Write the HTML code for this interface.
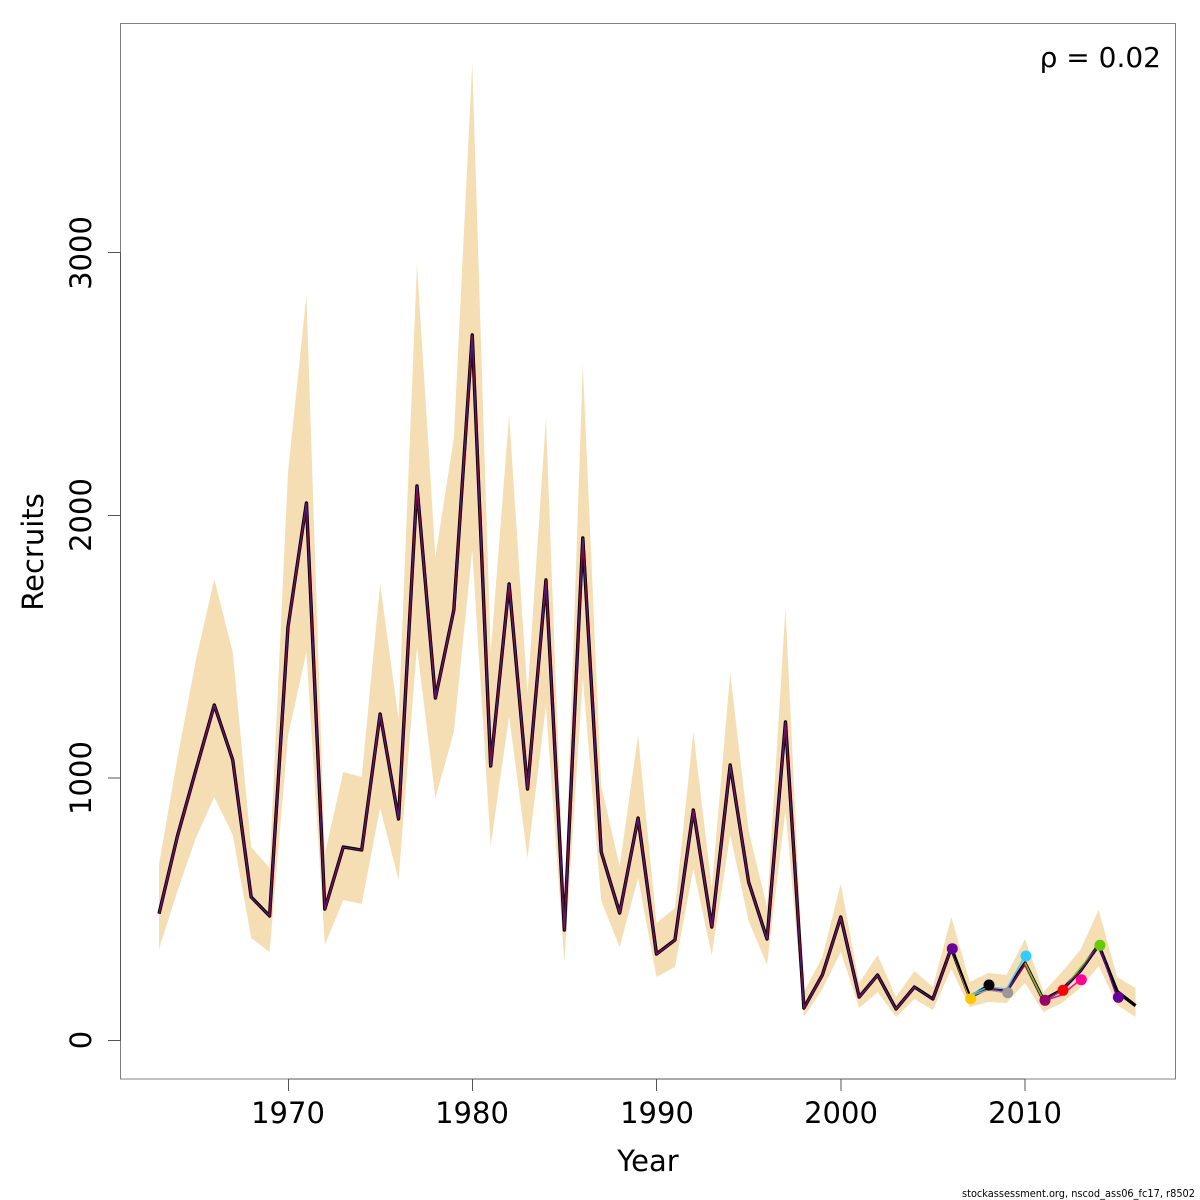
<!DOCTYPE html>
<html>
<head>
<meta charset="utf-8">
<style>
html,body{margin:0;padding:0;background:#fff;}
svg{display:block;}
text{font-family:"DejaVu Sans","Liberation Sans",sans-serif;fill:#000;}
</style>
</head>
<body>
<svg width="1200" height="1200" viewBox="0 0 1200 1200" xmlns="http://www.w3.org/2000/svg">
<rect x="0" y="0" width="1200" height="1200" fill="#fff"/>
<!-- confidence band -->
<polygon fill="#F5DEB3" stroke="none" points="
159.03,864 177.45,758 195.88,660 214.30,579 232.73,652 251.15,847 269.58,868 288,472 306.43,295 324.85,854 343.28,772 361.70,777 380.13,584 398.55,719 416.98,264 435.40,557 453.83,438 472.25,63 490.68,652 509.10,415 527.53,694 545.95,418 564.38,912 582.80,364 601.23,786 619.65,866 638.08,735 656.50,923 674.93,908 693.35,732 711.78,888 730.20,673 748.63,831 767.05,907 785.48,608 803.90,992 822.33,957 840.75,884 859.18,983 877.60,955 896.03,997 914.45,971 932.88,987 951.30,917 969.73,982 988.15,973 1006.58,975 1025,939 1043.43,992 1061.85,972 1080.28,950 1098.70,910 1117.13,977 1135.55,988
1135.55,1017 1117.13,1005 1098.70,966 1080.28,988 1061.85,1003 1043.43,1012 1025,983 1006.58,1003 988.15,1002 969.73,1007 951.30,969 932.88,1010 914.45,999 896.03,1017 877.60,992 859.18,1008 840.75,952 822.33,989 803.90,1017 785.48,810 767.05,965 748.63,921 730.20,835 711.78,955 693.35,869 674.93,967 656.50,977 638.08,878 619.65,947 601.23,901 582.80,678 564.38,962 545.95,706 527.53,858 509.10,716 490.68,846 472.25,550 453.83,732 435.40,798 416.98,647 398.55,880 380.13,808 361.70,904 343.28,900 324.85,945 306.43,652 288,736 269.58,952 251.15,938 232.73,835 214.30,797 195.88,838 177.45,891 159.03,949"/>

<!-- final (black) line -->
<polyline fill="none" stroke="#000" stroke-width="3.4" stroke-linejoin="round" points="159.03,913.7 177.45,836 195.88,770 214.30,705 232.73,760 251.15,897 269.58,916 288,627 306.43,503 324.85,909 343.28,847 361.70,850 380.13,714 398.55,819 416.98,486 435.40,698 453.83,610 472.25,335 490.68,766 509.10,584 527.53,789 545.95,580 564.38,930 582.80,538 601.23,852 619.65,913 638.08,818 656.50,954 674.93,940 693.35,810 711.78,927 730.20,765 748.63,882 767.05,939 785.48,722 803.90,1008 822.33,975 840.75,917 859.18,997 877.60,975 896.03,1009 914.45,987 932.88,999 951.30,948 969.73,997 988.15,988 1006.58,991 1025,963 1043.43,1000 1061.85,990 1080.28,971 1098.70,945 1117.13,991.5 1135.55,1005.7"/>

<!-- colored overlays on common portion -->
<polyline fill="none" stroke="#990033" stroke-width="0.8" stroke-linejoin="round" transform="translate(0.5,0.4)" points="159.03,913.7 177.45,836 195.88,770 214.30,705 232.73,760 251.15,897 269.58,916 288,627 306.43,503 324.85,909 343.28,847 361.70,850 380.13,714 398.55,819 416.98,486 435.40,698 453.83,610 472.25,335 490.68,766 509.10,584 527.53,789 545.95,580 564.38,930 582.80,538 601.23,852 619.65,913 638.08,818 656.50,954 674.93,940 693.35,810 711.78,927 730.20,765 748.63,882 767.05,939 785.48,722 803.90,1008 822.33,975 840.75,917 859.18,997 877.60,975 896.03,1009 914.45,987 932.88,999 951.30,948 969.73,997 988.15,988 1006.58,991 1025,962 1043.43,1001 1061.85,990"/>
<polyline fill="none" stroke="#5a1a80" stroke-width="1" stroke-linejoin="round" transform="translate(-0.3,0)" points="159.03,913.7 177.45,836 195.88,770 214.30,705 232.73,760 251.15,897 269.58,916 288,627 306.43,503 324.85,909 343.28,847 361.70,850 380.13,714 398.55,819 416.98,486 435.40,698 453.83,610 472.25,335 490.68,766 509.10,584 527.53,789 545.95,580 564.38,930 582.80,538 601.23,852 619.65,913 638.08,818 656.50,954 674.93,940 693.35,810 711.78,927 730.20,765 748.63,882 767.05,939 785.48,722 803.90,1008 822.33,975 840.75,917 859.18,997 877.60,975 896.03,1009 914.45,987 932.88,999 951.30,948"/>

<!-- peel tails -->
<polyline fill="none" stroke="#FFC800" stroke-width="1.5" points="951.30,948 969.73,998.7"/>
<polyline fill="none" stroke="#000" stroke-width="1.5" points="951.30,948 969.73,996 988.15,985"/>
<polyline fill="none" stroke="#999999" stroke-width="1.5" points="969.73,996 988.15,990 1006.58,992.7"/>
<polyline fill="none" stroke="#33CCFF" stroke-width="1.5" points="969.73,995 988.15,987 1006.58,989 1025,956"/>
<polyline fill="none" stroke="#990066" stroke-width="1.5" points="988.15,989 1006.58,991 1025,965 1043.43,1000.7"/>
<polyline fill="none" stroke="#FF0099" stroke-width="1.5" points="1025,963 1043.43,1001 1061.85,995 1080.28,979.7"/>
<polyline fill="none" stroke="#66CC00" stroke-width="1.5" points="1025,963 1043.43,1000 1061.85,991 1080.28,968 1098.70,945.7"/>
<polyline fill="none" stroke="#660099" stroke-width="1.5" points="1043.43,1000 1061.85,990 1080.28,971 1098.70,945 1117.13,997.3"/>

<!-- peel end dots -->
<circle cx="952.3" cy="948.7" r="5.5" fill="#660099"/>
<circle cx="970.7" cy="998.7" r="5.5" fill="#FFC800"/>
<circle cx="989" cy="985" r="5.5" fill="#000"/>
<circle cx="1007.7" cy="992.7" r="5.5" fill="#999999"/>
<circle cx="1026" cy="956" r="5.5" fill="#33CCFF"/>
<circle cx="1045" cy="1000.3" r="5.5" fill="#990066"/>
<circle cx="1063" cy="990.3" r="5.5" fill="#FF0000"/>
<circle cx="1081.3" cy="979.7" r="5.5" fill="#FF0099"/>
<circle cx="1100" cy="945.3" r="5.5" fill="#66CC00"/>
<circle cx="1118.3" cy="997.3" r="5.5" fill="#660099"/>

<!-- box -->
<rect x="120.5" y="23.5" width="1055" height="1055.5" fill="none" stroke="#808080" stroke-width="1"/>

<!-- y axis -->
<g stroke="#555" stroke-width="1">
<line x1="120.5" y1="252.5" x2="120.5" y2="1040.5"/>
<line x1="108" y1="1040.5" x2="120.5" y2="1040.5"/>
<line x1="108" y1="778" x2="120.5" y2="778"/>
<line x1="108" y1="515.5" x2="120.5" y2="515.5"/>
<line x1="108" y1="252.5" x2="120.5" y2="252.5"/>
</g>
<g font-size="29" text-anchor="middle">
<text transform="translate(91,1040) rotate(-90)">0</text>
<text transform="translate(91,778) rotate(-90)">1000</text>
<text transform="translate(91,515) rotate(-90)">2000</text>
<text transform="translate(91,253) rotate(-90)">3000</text>
<text transform="translate(43,552) rotate(-90)">Recruits</text>
</g>

<!-- x axis -->
<g stroke="#555" stroke-width="1">
<line x1="288" y1="1079" x2="1025" y2="1079"/>
<line x1="288.5" y1="1079" x2="288.5" y2="1091"/>
<line x1="472.5" y1="1079" x2="472.5" y2="1091"/>
<line x1="656.5" y1="1079" x2="656.5" y2="1091"/>
<line x1="841" y1="1079" x2="841" y2="1091"/>
<line x1="1025" y1="1079" x2="1025" y2="1091"/>
</g>
<g font-size="29" text-anchor="middle">
<text x="288" y="1123">1970</text>
<text x="472" y="1123">1980</text>
<text x="657" y="1123">1990</text>
<text x="841" y="1123">2000</text>
<text x="1025" y="1123">2010</text>
<text x="648" y="1171">Year</text>
</g>

<text x="1161" y="67" font-size="28" text-anchor="end">ρ = 0.02</text>

<text x="1195" y="1197" font-size="10.5" text-anchor="end" textLength="233" lengthAdjust="spacingAndGlyphs">stockassessment.org, nscod_ass06_fc17, r8502</text>
</svg>
</body>
</html>
